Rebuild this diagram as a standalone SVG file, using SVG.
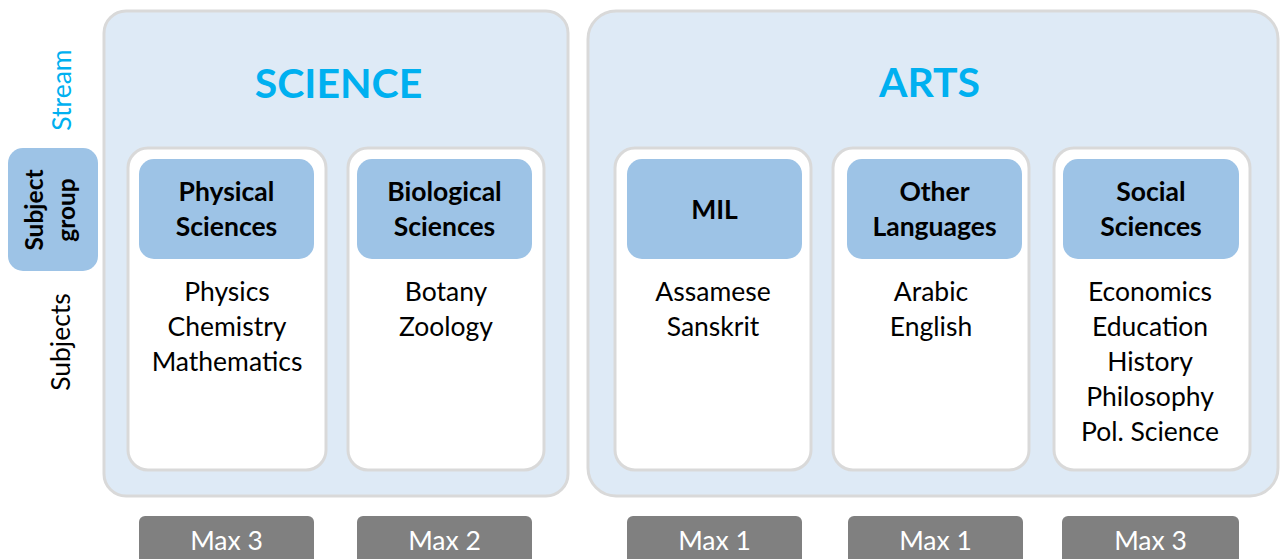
<svg xmlns="http://www.w3.org/2000/svg" width="1280" height="559" viewBox="0 0 1280 559">
<style>
text{font-family:Lato,"Liberation Sans",sans-serif;text-anchor:middle}
.stream{fill:#DEEAF6;stroke:#D9D9D9;stroke-width:3}
.card{fill:#FFFFFF;stroke:#D9D9D9;stroke-width:3}
.head{fill:#9DC3E6}
.max{fill:#808080}
.title{font-size:41px;font-weight:bold;fill:#00B0F0}
.ht{font-size:26.5px;font-weight:bold;fill:#000}
.st{font-size:26.5px;fill:#000}
.mt{font-size:26.5px;fill:#FFFFFF}
</style>
<rect width="1280" height="559" fill="#FFFFFF"/>
<g id="labels">
<text x="71" y="90" transform="rotate(-90 71 90)" style="font-size:26.5px;fill:#00B0F0">Stream</text>
<rect x="8" y="148" width="90" height="123" rx="15" class="head"/>
<text transform="rotate(-90 53 210)" class="ht" style="font-size:24.5px"><tspan x="53" y="200">Subject</tspan><tspan x="53" y="232">group</tspan></text>
<text x="70" y="342" transform="rotate(-90 70 342)" class="st">Subjects</text>
</g>
<g id="science">
<rect x="104" y="11" width="464" height="485" rx="22" class="stream"/>
<text x="338.5" y="98" class="title">SCIENCE</text>
</g>
<g id="arts">
<rect x="588" y="11" width="690" height="485" rx="28" class="stream"/>
<text x="929.5" y="97" class="title">ARTS</text>
</g>
<g id="physical">
<rect x="128" y="148" width="198" height="322" rx="20" class="card"/>
<rect x="139" y="159" width="175" height="100" rx="15" class="head"/>
<text x="226.5" y="201" class="ht">Physical</text>
<text x="226.5" y="236" class="ht">Sciences</text>
<text x="227" y="301" class="st">Physics</text>
<text x="227" y="336" class="st">Chemistry</text>
<text x="227" y="371" class="st">Mathematics</text>
</g>
<g id="biological">
<rect x="348" y="148" width="196" height="322" rx="20" class="card"/>
<rect x="357" y="159" width="175" height="100" rx="15" class="head"/>
<text x="444.5" y="201" class="ht">Biological</text>
<text x="444.5" y="236" class="ht">Sciences</text>
<text x="446" y="301" class="st">Botany</text>
<text x="446" y="336" class="st">Zoology</text>
</g>
<g id="mil">
<rect x="615" y="148" width="196" height="322" rx="20" class="card"/>
<rect x="627" y="159" width="175" height="100" rx="15" class="head"/>
<text x="714.5" y="219" class="ht">MIL</text>
<text x="713" y="301" class="st">Assamese</text>
<text x="713" y="336" class="st">Sanskrit</text>
</g>
<g id="other">
<rect x="833" y="148" width="196" height="322" rx="20" class="card"/>
<rect x="847" y="159" width="175" height="100" rx="15" class="head"/>
<text x="934.5" y="201" class="ht">Other</text>
<text x="934.5" y="236" class="ht">Languages</text>
<text x="931" y="301" class="st">Arabic</text>
<text x="931" y="336" class="st">English</text>
</g>
<g id="social">
<rect x="1054" y="148" width="196" height="322" rx="20" class="card"/>
<rect x="1063" y="159" width="176" height="100" rx="15" class="head"/>
<text x="1151" y="201" class="ht">Social</text>
<text x="1151" y="236" class="ht">Sciences</text>
<text x="1150" y="301" class="st">Economics</text>
<text x="1150" y="336" class="st">Education</text>
<text x="1150" y="371" class="st">History</text>
<text x="1150" y="406" class="st">Philosophy</text>
<text x="1150" y="441" class="st">Pol. Science</text>
</g>
<g id="maxes">
<rect x="139" y="516" width="175" height="60" rx="6" class="max"/>
<text x="226.5" y="550" class="mt">Max 3</text>
<rect x="357" y="516" width="175" height="60" rx="6" class="max"/>
<text x="444.5" y="550" class="mt">Max 2</text>
<rect x="627" y="516" width="175" height="60" rx="6" class="max"/>
<text x="714.5" y="550" class="mt">Max 1</text>
<rect x="848" y="516" width="175" height="60" rx="6" class="max"/>
<text x="935.5" y="550" class="mt">Max 1</text>
<rect x="1062" y="516" width="177" height="60" rx="6" class="max"/>
<text x="1150.5" y="550" class="mt">Max 3</text>
</g>
<g id="connectors"></g>
</svg>
